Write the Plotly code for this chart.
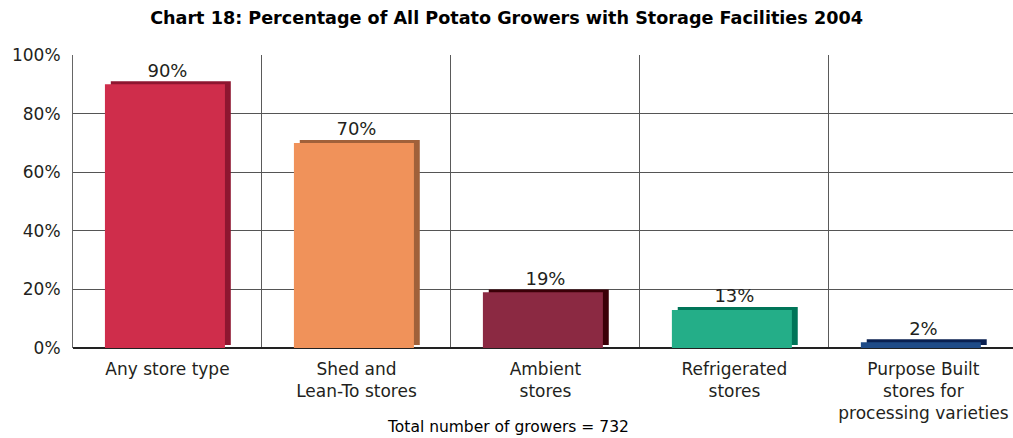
import plotly.graph_objects as go

title = "Chart 18: Percentage of All Potato Growers with Storage Facilities 2004"
footer = "Total number of growers = 732"
categories = ["Any store type", "Shed and<br>Lean-To stores", "Ambient<br>stores",
              "Refrigerated<br>stores", "Purpose Built<br>stores for<br>processing varieties"]
values = [90, 70, 19, 13, 2]
value_labels = ["90%", "70%", "19%", "13%", "2%"]
front_colors = ["#CF2D4B", "#F0925A", "#8B2942", "#24AE88", "#1F4B87"]
shadow_colors = ["#8E1630", "#A0613A", "#3C0008", "#007558", "#0A2050"]
y_ticks = [0, 20, 40, 60, 80, 100]
y_ticktext = ["0%", "20%", "40%", "60%", "80%", "100%"]

depth = 1.0  # 3D depth in percent units
font_family = "DejaVu Sans, Verdana, sans-serif"
text_color = "#231F20"

fig = go.Figure()
# back (shadow) face
fig.add_trace(go.Bar(
    x=categories, y=values, base=[depth] * len(values),
    width=0.635, offset=-0.30, marker=dict(color=shadow_colors, line=dict(width=0)),
    hoverinfo="skip", showlegend=False))
# front face
fig.add_trace(go.Bar(
    x=categories, y=values,
    width=0.635, offset=-0.331, marker=dict(color=front_colors, line=dict(width=0)),
    hoverinfo="skip", showlegend=False))
# value labels
fig.add_trace(go.Scatter(
    x=categories, y=[v + depth for v in values], mode="text", text=value_labels,
    textposition="top center", textfont=dict(size=18, color=text_color, family=font_family),
    hoverinfo="skip", showlegend=False, cliponaxis=False))

fig.update_layout(
    width=1013, height=438,
    margin=dict(l=73, r=0, t=55, b=90),
    barmode="overlay",
    plot_bgcolor="white", paper_bgcolor="white",
    font=dict(family=font_family, color=text_color, size=17),
    title=dict(text="<b>" + title + "</b>", x=0.5, xanchor="center", xref="container",
               y=0.959, yref="container", yanchor="middle",
               font=dict(size=17.6, color="#000000", family=font_family)),
    xaxis=dict(type="category", range=[-0.5, 4.474], tickson="boundaries", ticks="",
               showgrid=True, gridcolor="#5A5A5A", gridwidth=1, showline=False,
               automargin=False, ticklabelstandoff=9, tickfont=dict(size=17, color=text_color)),
    yaxis=dict(range=[0, 100], tickvals=y_ticks, ticktext=y_ticktext, showgrid=True,
               gridcolor="#555555", gridwidth=1, showline=True, linecolor="#666666",
               zeroline=True, zerolinecolor="#222222", zerolinewidth=1.5, automargin=False,
               ticks="", ticklabelstandoff=8, tickfont=dict(size=17, color=text_color)),
    annotations=[dict(text=footer, x=0.5, xref="paper", xanchor="center", xshift=-35,
                      y=-0.27, yref="paper", yanchor="middle", showarrow=False,
                      font=dict(size=15.5, color="#000000"))],
)

fig.write_html("out.html", config={"displayModeBar": False},
               post_script="document.body.style.margin='0';")
